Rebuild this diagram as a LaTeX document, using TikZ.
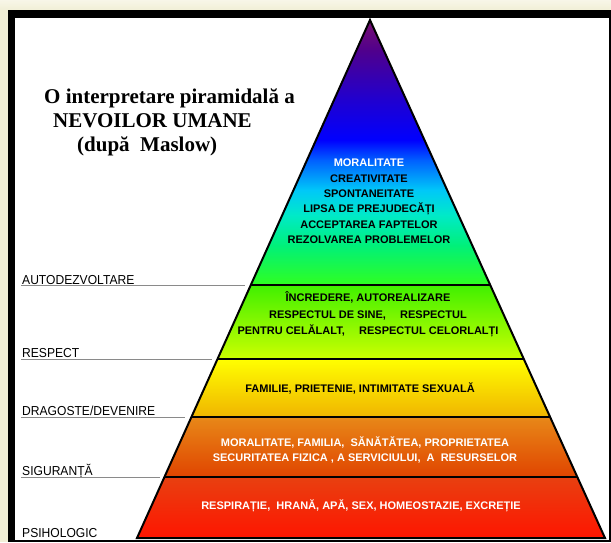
\documentclass[tikz,border=0pt]{standalone}
\usepackage{fontspec}
\setmainfont{Liberation Serif}
\newfontfamily\arialf{Liberation Sans}
\newfontfamily\arialn[FakeStretch=0.93]{Liberation Sans}
\usetikzlibrary{calc}
\definecolor{cream}{HTML}{F1EFD6}
\definecolor{creamlt}{HTML}{F8F6E8}
\definecolor{c0}{HTML}{7A1070}
\definecolor{c1}{HTML}{50008C}
\definecolor{c2}{HTML}{2000D0}
\definecolor{c3}{HTML}{0000FF}
\definecolor{c4}{HTML}{0060FF}
\definecolor{c5}{HTML}{00C8F8}
\definecolor{c6}{HTML}{00EAC8}
\definecolor{c7}{HTML}{00F07A}
\definecolor{c8}{HTML}{30FF20}
\definecolor{r0}{HTML}{40F000}
\definecolor{r1}{HTML}{CCFF00}
\definecolor{y0}{HTML}{FFFF00}
\definecolor{y1}{HTML}{F0B400}
\definecolor{o0}{HTML}{E88818}
\definecolor{o1}{HTML}{E04400}
\definecolor{d0}{HTML}{E84010}
\definecolor{d1}{HTML}{FF1400}
\definecolor{ulgray}{HTML}{8A8A8A}
\begin{document}
\begin{tikzpicture}[x=1pt,y=-1pt,
  lbl/.style={anchor=base west, inner sep=0, font=\arialn\fontsize{13}{13}\selectfont},
  ptxt/.style={align=center, inner sep=0, font=\arialf\bfseries\fontsize{11}{15.4}\selectfont},
  ttl/.style={anchor=base west, inner sep=0, font=\bfseries\fontsize{21}{21}\selectfont},
  sepline/.style={draw=black, line width=2pt},
  uline/.style={draw=ulgray, line width=0.8pt}]
\useasboundingbox (0,0) rectangle (611,542);
% background and frame
\fill[cream] (0,0) rectangle (611,542);
\shade[top color=creamlt, bottom color=cream] (0,0) rectangle (611,10);
\fill[black] (8,10) rectangle (611,542);
\fill[white] (15,18) rectangle (609,540);
% pyramid geometry
\coordinate (A) at (370,20);
\coordinate (BL) at (137,538);
\coordinate (BR) at (605,538);
\coordinate (L1) at ($(A)!0.5116!(BL)$);
\coordinate (R1) at ($(A)!0.5116!(BR)$);
\coordinate (L2) at ($(A)!0.6544!(BL)$);
\coordinate (R2) at ($(A)!0.6544!(BR)$);
\coordinate (L3) at ($(A)!0.7664!(BL)$);
\coordinate (R3) at ($(A)!0.7664!(BR)$);
\coordinate (L4) at ($(A)!0.8822!(BL)$);
\coordinate (R4) at ($(A)!0.8822!(BR)$);
\begin{scope}
  \clip (A) -- (BL) -- (BR) -- cycle;
  \shade[top color=c0, bottom color=c1] (100,19) rectangle (620,50.3);
  \shade[top color=c1, bottom color=c2] (100,50) rectangle (620,100.3);
  \shade[top color=c2, bottom color=c3] (100,100) rectangle (620,140.3);
  \shade[top color=c3, bottom color=c4] (100,140) rectangle (620,160.3);
  \shade[top color=c4, bottom color=c5] (100,160) rectangle (620,190.3);
  \shade[top color=c5, bottom color=c6] (100,190) rectangle (620,215.3);
  \shade[top color=c6, bottom color=c7] (100,215) rectangle (620,245.3);
  \shade[top color=c7, bottom color=c8] (100,245) rectangle (620,285.3);
  \shade[top color=r0, bottom color=r1] (100,285) rectangle (620,359.3);
  \shade[top color=y0, bottom color=y1] (100,359) rectangle (620,417.3);
  \shade[top color=o0, bottom color=o1] (100,417) rectangle (620,477.3);
  \shade[top color=d0, bottom color=d1] (100,477) rectangle (620,540);
\end{scope}
\draw[sepline] (L1) -- (R1);
\draw[sepline] (L2) -- (R2);
\draw[sepline] (L3) -- (R3);
\draw[sepline] (L4) -- (R4);
\draw[line width=2pt, line join=miter] (A) -- (BL) -- (BR) -- cycle;
% title
\node[ttl] (t1) at (44,103) {O interpretare piramidală a};
\node[ttl] (t2) at (53,127) {NEVOILOR UMANE};
\node[ttl] (t3) at (77,151) {(după\ \ Maslow)};
% left labels with underlines
\node[lbl] (lab1) at (22,284) {AUTODEZVOLTARE};
\node[lbl] (lab2) at (22,357) {RESPECT};
\node[lbl] (lab3) at (22,415.5) {DRAGOSTE/DEVENIRE};
\node[lbl] (lab4) at (22,475.5) {SIGURANȚĂ};
\node[lbl] (lab5) at (22,537) {PSIHOLOGIC};
\coordinate (u1s) at (21,285.8); \coordinate (u1e) at (245,285.8);
\coordinate (u2s) at (21,359);   \coordinate (u2e) at (212,359);
\coordinate (u3s) at (21,417.5); \coordinate (u3e) at (185,417.5);
\coordinate (u4s) at (21,477.5); \coordinate (u4e) at (160,477.5);
\draw[uline] (u1s) -- (u1e);
\draw[uline] (u2s) -- (u2e);
\draw[uline] (u3s) -- (u3e);
\draw[uline] (u4s) -- (u4e);
% pyramid texts
\node[ptxt] (p1) at (369,201.5) {\textcolor{white}{MORALITATE}\\CREATIVITATE\\SPONTANEITATE\\LIPSA DE PREJUDECĂȚI\\ACCEPTAREA FAPTELOR\\REZOLVAREA PROBLEMELOR};
\node[ptxt, font=\arialf\bfseries\fontsize{11}{16.5}\selectfont] (p2) at (368,314.5) {ÎNCREDERE, AUTOREALIZARE\\RESPECTUL DE SINE,\hspace{1.3em}RESPECTUL\\PENTRU CELĂLALT,\hspace{1.3em}RESPECTUL CELORLALȚI};
\node[ptxt] (p3) at (360,388) {FAMILIE, PRIETENIE, INTIMITATE SEXUALĂ};
\node[ptxt, text=white, font=\arialf\bfseries\fontsize{11}{15}\selectfont] (p4) at (365,449.5) {MORALITATE, FAMILIA,\ \ SĂNĂTĂTEA, PROPRIETATEA\\SECURITATEA FIZICA , A SERVICIULUI,\ \ A\ \ RESURSELOR};
\node[ptxt, text=white] (p5) at (361,506) {RESPIRAȚIE,\ \ HRANĂ, APĂ, SEX, HOMEOSTAZIE, EXCREȚIE};
\end{tikzpicture}
\end{document}
